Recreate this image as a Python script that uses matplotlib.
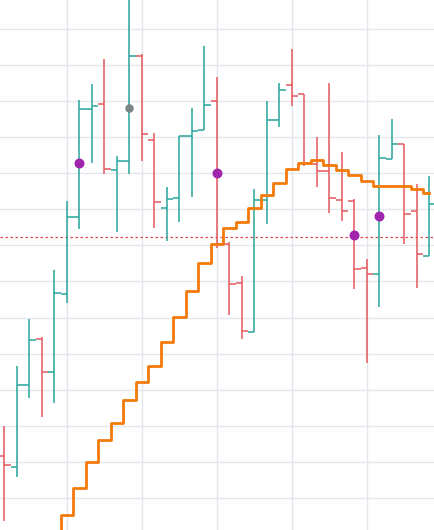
import numpy as np
import matplotlib.pyplot as plt
from matplotlib.ticker import MultipleLocator

# OHLC data (one bar per period)
opens = [111.6, 108.6, 131.3, 144.0, 134.9, 156.5, 177.8, 207.8, 209.1, 190.9,
         193.4, 222.4, 199.2, 180.3, 183.1, 200.3, 201.9, 210.0, 170.4, 159.6,
         146.0, 182.5, 204.7, 214.4, 211.9, 192.5, 190.6, 182.5, 182.3, 163.7,
         162.0, 193.9, 198.1, 179.5, 167.0]
highs = [119.9, 136.6, 149.6, 144.6, 163.2, 182.3, 210.2, 214.7, 221.6, 194.7,
         239.3, 223.0, 201.1, 186.1, 200.3, 208.0, 225.2, 216.6, 170.9, 161.5,
         185.6, 210.0, 215.0, 224.4, 211.9, 200.0, 215.0, 195.8, 182.8, 166.2,
         200.6, 205.0, 198.1, 187.0, 189.2]
lows = [93.6, 105.8, 127.7, 122.4, 126.3, 154.0, 174.5, 192.8, 189.8, 173.7,
        189.8, 193.4, 174.8, 171.2, 176.5, 183.4, 201.9, 169.3, 150.7, 144.0,
        146.0, 175.9, 202.8, 208.6, 192.0, 186.1, 178.9, 176.7, 157.9, 137.4,
        152.9, 193.9, 170.4, 158.2, 167.0]
closes = [109.1, 131.3, 143.8, 134.9, 156.8, 177.8, 207.8, 208.6, 191.1, 193.4,
          222.4, 200.8, 182.0, 182.8, 200.3, 201.7, 208.9, 170.4, 159.3, 146.3,
          182.5, 204.7, 213.0, 211.4, 192.8, 190.6, 183.1, 179.5, 163.4, 162.0,
          194.2, 198.1, 178.7, 167.6, 181.4]

# slow moving line (starts at bar 4)
line_start = 4
line_vals = [86.1, 95.4, 102.9, 110.1, 116.1, 120.7, 127.1, 132.1, 136.6, 143.1,
             150.2, 157.3, 165.2, 170.4, 174.7, 176.4, 180.3, 184.0, 187.3, 191.1,
             192.7, 193.7, 192.3, 190.9, 189.6, 187.8, 186.5, 186.5, 186.3, 185.5,
             184.6]

# markers
purple_idx = [6, 17, 28, 30]
purple_val = [192.8, 190.0, 172.9, 178.1]
gray_idx = [10]
gray_val = [208.0]

level = 172.2

up_col = '#26a69a'
down_col = '#e5575c'

x = np.arange(len(opens))
o = np.array(opens)
h = np.array(highs)
l = np.array(lows)
c = np.array(closes)
cols = np.where(c >= o, up_col, down_col)

fig = plt.figure(figsize=(4.35, 5.30), dpi=100)
ax = fig.add_axes([0, 0, 1, 1])

# bars
ax.vlines(x, l, h, colors=cols, linewidth=1.1, zorder=3)
ax.hlines(o, x - 0.5, x, colors=cols, linewidth=1.1, zorder=3)
ax.hlines(c, x, x + 0.5, colors=cols, linewidth=1.1, zorder=3)

# stepped line
lx = np.arange(line_start, line_start + len(line_vals))
ax.plot(lx, line_vals, drawstyle='steps-mid', color='#f37a0a', linewidth=2.0, zorder=4)

# horizontal level
ax.axhline(level, color='#e0484e', linewidth=0.9, linestyle=(0, (2, 2)), zorder=2)

ax.scatter(purple_idx, purple_val, s=38, color='#a024ac', zorder=5)
ax.scatter(gray_idx, gray_val, s=26, color='#7b8585', zorder=5)

# ticks first, limits after (set_xticks would widen the view)
ax.set_xticks(np.arange(5, 35, 6))
ax.yaxis.set_major_locator(MultipleLocator(10))
ax.set_xlim(-0.344, 34.456)
ax.set_ylim(91.14, 237.95)
ax.grid(True, color='#e3e6ec', linewidth=1.0, zorder=0)
ax.set_axisbelow(True)
ax.tick_params(left=False, bottom=False, labelleft=False, labelbottom=False)
for s in ax.spines.values():
    s.set_visible(False)

fig.savefig('out.png', dpi=100)
